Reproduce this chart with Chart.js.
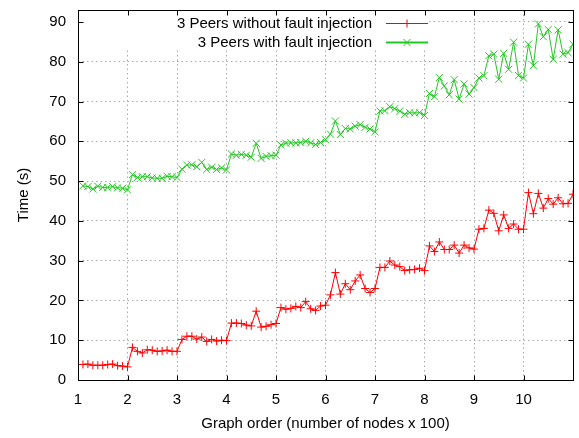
<!DOCTYPE html>
<html lang="en">
  <head>
    <title>Time vs graph order</title>
    <meta charset="utf-8">
    <script src="https://cdn.jsdelivr.net/npm/chart.js@4/dist/chart.umd.min.js"></script>
    <style>
      html, body { margin: 0; padding: 0; background: #fff; }
      #wrap { position: relative; width: 579px; height: 438px; }
    </style>
  </head>
  <body>
    <div id="wrap"><canvas id="myChart1" width="579" height="438"></canvas></div>
  <script>
    // graph order (number of nodes x 100)
    var nodes = [
      1.1, 1.2, 1.3, 1.4, 1.5, 1.6, 1.7, 1.8, 1.9, 2.0,
      2.1, 2.2, 2.3, 2.4, 2.5, 2.6, 2.7, 2.8, 2.9, 3.0,
      3.1, 3.2, 3.3, 3.4, 3.5, 3.6, 3.7, 3.8, 3.9, 4.0,
      4.1, 4.2, 4.3, 4.4, 4.5, 4.6, 4.7, 4.8, 4.9, 5.0,
      5.1, 5.2, 5.3, 5.4, 5.5, 5.6, 5.7, 5.8, 5.9, 6.0,
      6.1, 6.2, 6.3, 6.4, 6.5, 6.6, 6.7, 6.8, 6.9, 7.0,
      7.1, 7.2, 7.3, 7.4, 7.5, 7.6, 7.7, 7.8, 7.9, 8.0,
      8.1, 8.2, 8.3, 8.4, 8.5, 8.6, 8.7, 8.8, 8.9, 9.0,
      9.1, 9.2, 9.3, 9.4, 9.5, 9.6, 9.7, 9.8, 9.9, 10.0,
      10.1, 10.2, 10.3, 10.4, 10.5, 10.6, 10.7, 10.8, 10.9, 11.0
    ];

    // 3 Peers without fault injection (s)
    var withoutFault = [
      3.9, 4.0, 3.7, 3.7, 3.7, 3.9, 4.0, 3.6, 3.5, 3.3,
      8.2, 7.2, 6.8, 7.6, 7.5, 7.2, 7.3, 7.5, 7.2, 7.2,
      10.2, 11.0, 11.0, 10.3, 10.8, 9.7, 10.2, 9.8, 10.0, 9.9,
      14.3, 14.3, 14.2, 13.8, 13.6, 17.3, 13.3, 13.5, 13.9, 14.2,
      18.2, 17.8, 18.0, 18.5, 18.2, 19.7, 17.9, 17.5, 18.6, 18.8,
      21.4, 27.0, 21.6, 24.2, 22.7, 24.9, 26.4, 23.0, 22.0, 23.0,
      28.3, 28.3, 29.9, 28.9, 28.5, 27.5, 27.7, 27.8, 28.1, 27.5,
      33.7, 32.3, 34.7, 32.8, 32.8, 33.9, 31.9, 33.9, 33.2, 32.9,
      37.9, 38.1, 42.7, 41.9, 37.5, 41.5, 38.1, 39.2, 37.9, 37.9,
      47.1, 41.8, 46.9, 43.2, 45.6, 44.2, 45.8, 44.3, 44.4, 46.7
    ];

    // 3 Peers with fault injection (s)
    var withFault = [
      48.8, 48.6, 48.0, 48.7, 48.4, 48.4, 48.6, 48.3, 48.2, 47.8,
      51.6, 50.9, 51.1, 51.1, 50.8, 50.7, 50.7, 51.2, 51.1, 50.9,
      53.0, 54.0, 54.1, 53.6, 54.7, 52.9, 53.5, 52.9, 53.3, 52.8,
      56.8, 56.5, 56.7, 56.5, 56.0, 59.5, 55.7, 56.2, 56.4, 56.5,
      59.1, 59.5, 59.6, 59.6, 59.7, 60.0, 59.6, 59.2, 59.7, 60.4,
      61.8, 65.1, 61.7, 63.2, 63.1, 63.8, 64.2, 63.5, 63.1, 62.4,
      67.6, 67.7, 68.7, 68.2, 67.6, 66.8, 67.2, 67.1, 67.2, 66.5,
      72.0, 71.2, 76.0, 73.9, 71.7, 75.5, 70.6, 74.4, 71.9, 73.5,
      75.9, 76.5, 81.5, 81.9, 75.6, 82.1, 78.1, 84.9, 76.5, 75.9,
      84.4, 79.0, 89.5, 86.3, 88.1, 80.6, 88.0, 81.9, 82.3, 84.4
    ];

    var seriesLabels = ['3 Peers without fault injection', '3 Peers with fault injection'];
    var xTickLabels = ['1', '2', '3', '4', '5', '6', '7', '8', '9', '10', ''];

    var FONT = "'Liberation Sans', Arial, sans-serif";

    function toPoints(ys) {
      return nodes.map(function (x, i) { return {x: x, y: ys[i]}; });
    }

    function drawMark(ctx, style, x, y, r) {
      ctx.beginPath();
      if (style === 'cross') {
        ctx.moveTo(x - r, y); ctx.lineTo(x + r, y);
        ctx.moveTo(x, y - r); ctx.lineTo(x, y + r);
      } else {
        var d = r * Math.SQRT1_2;
        ctx.moveTo(x - d, y - d); ctx.lineTo(x + d, y + d);
        ctx.moveTo(x - d, y + d); ctx.lineTo(x + d, y - d);
      }
      ctx.stroke();
    }

    // gnuplot look: opaque key, inward mirrored tics, frame, key on the right
    var gnuplotLook = {
      id: 'gnuplotLook',
      beforeDatasetsDraw: function (chart) {
        var ctx = chart.ctx, a = chart.chartArea;
        ctx.save();
        ctx.fillStyle = '#fff';
        ctx.fillRect(a.left + 1, a.top + 1, 428 - a.left - 1, 50 - a.top - 1);
        ctx.restore();
      },
      afterDraw: function (chart) {
        var ctx = chart.ctx, a = chart.chartArea;
        var xs = chart.scales.x, ys = chart.scales.y;
        var L = Math.round(a.left) + 0.5, R = Math.round(a.right) + 0.5;
        var T = Math.round(a.top) + 0.5, B = Math.round(a.bottom) + 0.5;
        ctx.save();
        ctx.strokeStyle = '#000';
        ctx.lineWidth = 1;
        var tl = 5;
        xs.ticks.forEach(function (t) {
          var px = Math.round(xs.getPixelForValue(t.value)) + 0.5;
          if (px <= L + 1 || px >= R - 1) return;
          ctx.beginPath();
          ctx.moveTo(px, B); ctx.lineTo(px, B - tl);
          ctx.moveTo(px, T); ctx.lineTo(px, T + tl);
          ctx.stroke();
        });
        ys.ticks.forEach(function (t) {
          var py = Math.round(ys.getPixelForValue(t.value)) + 0.5;
          if (py >= B - 1 || py <= T + 1) return;
          ctx.beginPath();
          ctx.moveTo(L, py); ctx.lineTo(L + tl, py);
          ctx.moveTo(R, py); ctx.lineTo(R - tl, py);
          ctx.stroke();
        });
        ctx.strokeRect(L, T, R - L, B - T);

        // key
        ctx.font = '15px ' + FONT;
        ctx.textAlign = 'right';
        ctx.textBaseline = 'middle';
        chart.data.datasets.forEach(function (ds, i) {
          var y = 23.5 + i * 19;
          ctx.fillStyle = '#000';
          ctx.fillText(ds.label, 372, y);
          ctx.strokeStyle = ds.borderColor;
          ctx.lineWidth = i === 1 ? 2 : 1;
          ctx.beginPath();
          ctx.moveTo(386, y); ctx.lineTo(428, y);
          ctx.stroke();
          ctx.lineWidth = 1;
          drawMark(ctx, ds.pointStyle, 407, y, ds.pointRadius);
        });
        ctx.restore();
      }
    };

    var ctx = document.getElementById('myChart1').getContext('2d');
    var myChart1 = new Chart(ctx, {
      type: 'line',
      data: {
        datasets: [{
          label: seriesLabels[0],
          data: toPoints(withoutFault),
          borderColor: '#ff0000',
          backgroundColor: '#ff0000',
          borderWidth: 1,
          pointStyle: 'cross',
          pointRadius: 4,
          pointBorderWidth: 1,
          pointBorderColor: '#ff0000',
          fill: false,
          tension: 0
        }, {
          label: seriesLabels[1],
          data: toPoints(withFault),
          borderColor: '#22c822',
          backgroundColor: '#22c822',
          borderWidth: 1,
          pointStyle: 'crossRot',
          pointRadius: 5,
          pointBorderWidth: 1,
          pointBorderColor: '#22c822',
          fill: false,
          tension: 0
        }]
      },
      options: {
        responsive: false,
        animation: false,
        devicePixelRatio: 1,
        layout: { padding: { top: 10, right: 2, bottom: 0, left: 0 } },
        plugins: {
          legend: { display: false },
          tooltip: { enabled: false }
        },
        scales: {
          x: {
            type: 'linear',
            min: 1,
            max: 11,
            afterFit: function (s) { s.height = 58; s.paddingLeft = 0; s.paddingRight = 0; },
            ticks: {
              stepSize: 1,
              padding: 11,
              color: '#000',
              font: { family: FONT, size: 15 },
              maxRotation: 0,
              autoSkip: false,
              callback: function (v) { return xTickLabels[Math.round(v) - 1]; }
            },
            grid: { color: '#a8a8a8', drawTicks: false },
            border: { display: false, dash: [1.5, 3] },
            title: {
              display: true,
              text: 'Graph order (number of nodes x 100)',
              color: '#000',
              font: { family: FONT, size: 15 },
              padding: { top: 0, bottom: 5 }
            }
          },
          y: {
            min: 0,
            max: 93,
            afterFit: function (s) { s.width = 78; s.paddingTop = 0; s.paddingBottom = 0; },
            ticks: {
              stepSize: 10,
              includeBounds: false,
              padding: 12,
              color: '#000',
              font: { family: FONT, size: 15 }
            },
            grid: { color: '#a8a8a8', drawTicks: false },
            border: { display: false, dash: [1.5, 3] },
            title: {
              display: true,
              text: 'Time (s)',
              color: '#000',
              font: { family: FONT, size: 15 },
              padding: { top: 15, bottom: 0 }
            }
          }
        }
      },
      plugins: [gnuplotLook]
    });
  </script>
  </body>
</html>
